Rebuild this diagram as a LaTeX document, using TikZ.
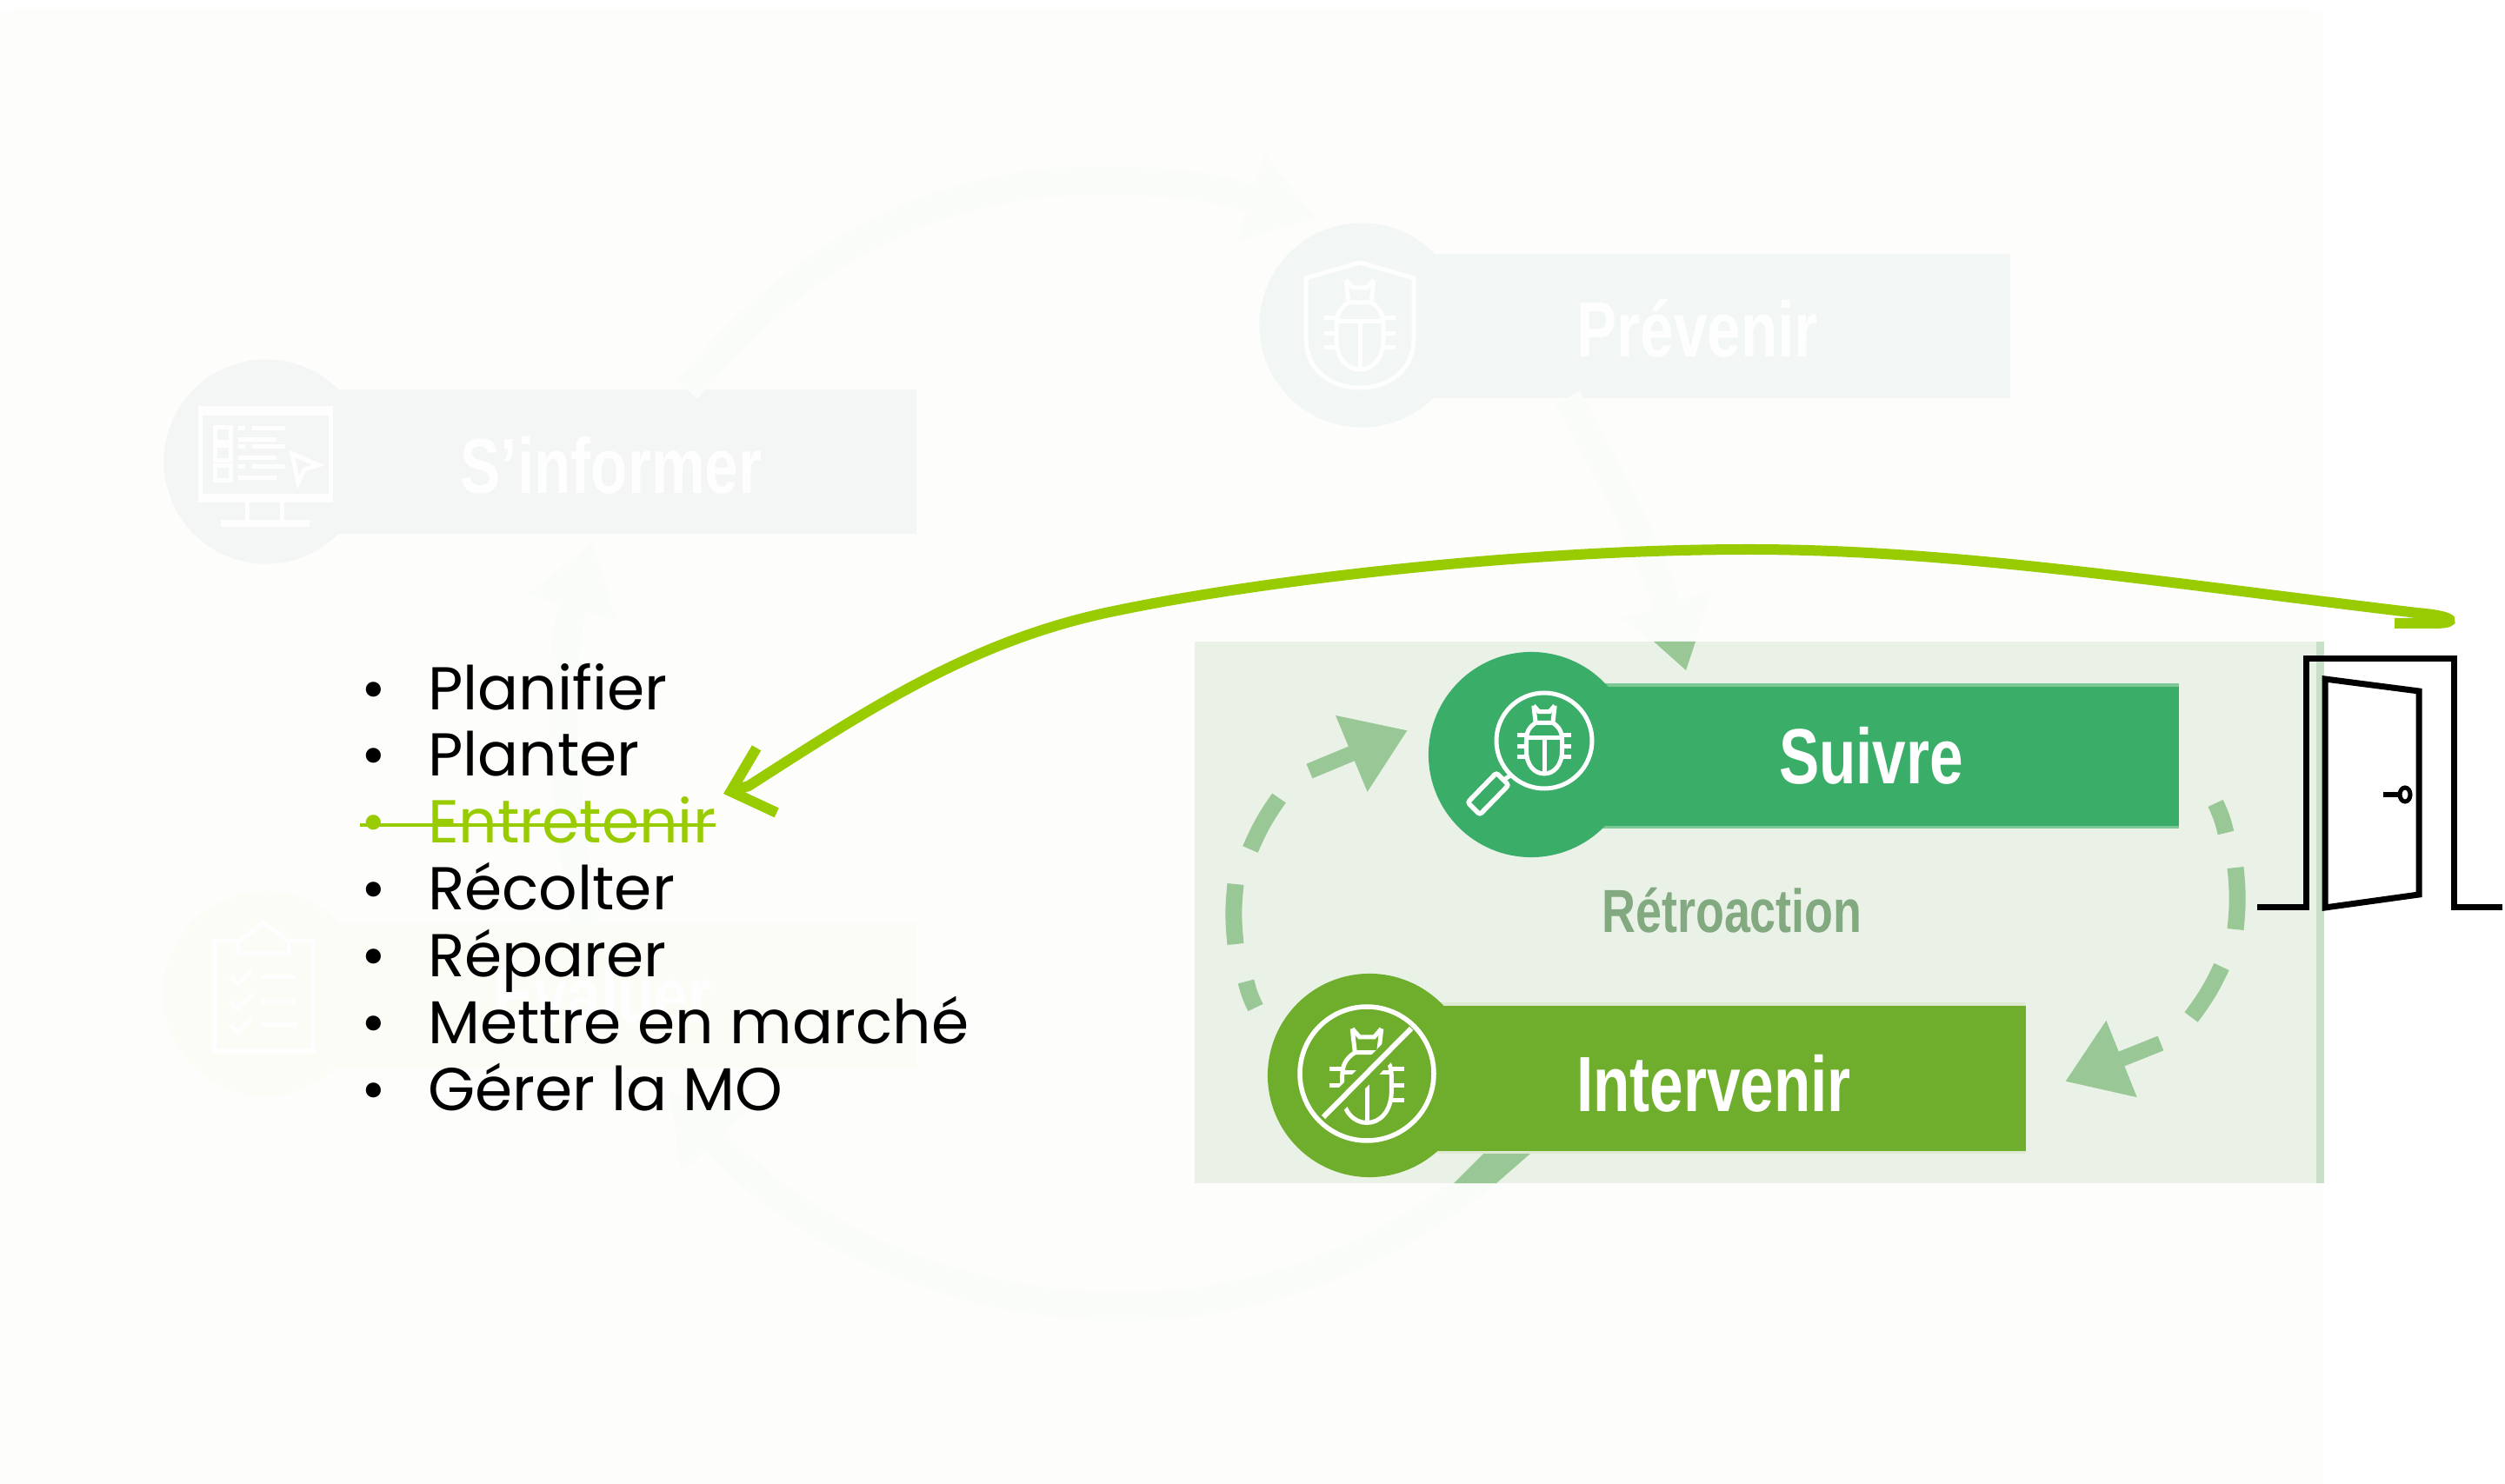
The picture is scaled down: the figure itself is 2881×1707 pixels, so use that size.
\documentclass[tikz,border=0pt]{standalone}
\usepackage{fontspec}
\usetikzlibrary{matrix}
\usetikzlibrary{arrows.meta}
\setmainfont{Poppins}
\newfontfamily\condfont[FakeStretch=0.77]{Liberation Sans}
\definecolor{pagetint}{HTML}{FDFDFB}
\definecolor{paneltint}{HTML}{EAF2E8}
\definecolor{paneledge}{HTML}{C8DFC8}
\definecolor{loopgreen}{HTML}{99C796}
\definecolor{fadedflow}{HTML}{FAFCFA}
\definecolor{suivregreen}{HTML}{3AAE68}
\definecolor{suivreedge}{HTML}{7CC796}
\definecolor{intervgreen}{HTML}{6FAE2C}
\definecolor{intervedge}{HTML}{DFE9D2}
\definecolor{informertint}{HTML}{F4F6F6}
\definecolor{preventint}{HTML}{F2F7F6}
\definecolor{evaltint}{HTML}{FBFCF6}
\definecolor{ghostwhite}{HTML}{FEFEFE}
\definecolor{markgreen}{HTML}{99CC00}
\newcommand{\beetle}[4]{%
	\begin{scope}[shift={(#1,#2)},scale=#3,draw=#4,line width=0.05cm]
		\draw (-16,-53) -- (-8,-44) -- (8,-44) -- (16,-53);
		\draw (-16,-53) -- (-13,-27) -- (13,-27) -- (16,-53);
		\draw (-13,-27) .. controls (-24,-20) and (-27,-12) .. (-27,0) -- (-27,15) .. controls (-27,38) and (-14,50) .. (0,50) .. controls (14,50) and (27,38) .. (27,15) -- (27,0) .. controls (27,-12) and (24,-20) .. (13,-27);
		\draw (-27,-5) -- (27,-5);
		\draw (0,-5) -- (0,48);
		\foreach \legy in {-9,9,25}
		{
			\draw (-41,\legy) -- (-27,\legy);
			\draw (27,\legy) -- (41,\legy);
		}
	\end{scope}}
\tikzset{
	stagecircle/.style={circle,minimum size=2.35cm,inner sep=0pt,outer sep=0pt},
	stagebar/.style={rectangle,minimum height=1.65cm,inner sep=0pt,outer sep=0pt,anchor=west},
	stagelabel/.style={anchor=base,inner sep=0pt,font=\condfont\bfseries\fontsize{25.6}{30}\selectfont},
	flowfaded/.style={draw=fadedflow,line width=0.32cm,-{Triangle[length=0.78cm,width=1cm]}},
	loopdash/.style={draw=loopgreen,line width=0.19cm},
	looparrow/.style={draw=loopgreen,line width=0.18cm,-{Triangle[length=0.7cm,width=0.9cm]}},
	markline/.style={draw=markgreen,line width=0.12cm},
	icon/.style={line width=0.05cm},
	doorline/.style={draw=black,line width=0.07cm,miter limit=10}
}
\begin{document}
\begin{tikzpicture}[x=0.01cm,y=-0.01cm]
	\useasboundingbox (0,0) rectangle (2881,1707);
	\fill[white] (0,0) rectangle (2881,1707);
	\fill[pagetint,rounded corners=0.15cm] (0,10) rectangle (2672,1720);
	
	% faded stages
	\coordinate (flowtop) at (1270,208);
	\coordinate (flowbottom) at (1290,1503);
	\node[stagecircle,fill=informertint] (informercircle) at (306,531) {};
	\node[stagebar,fill=informertint,minimum width=7.48cm] (informerbar) at (306,531) {};
	\node[stagecircle,fill=preventint] (prevenircircle) at (1566,374) {};
	\node[stagebar,fill=preventint,minimum width=7.46cm] (prevenirbar) at (1566,375) {};
	\node[stagecircle,fill=evaltint] (evalcircle) at (305,1143) {};
	\node[stagebar,fill=evaltint,minimum width=7.49cm] (evalbar) at (305,1145) {};
	
	\draw[flowfaded] ([xshift=1.1cm]informerbar.north) .. controls (930,280) and (1090,205) .. (flowtop) .. controls (1330,208) and (1390,212) .. (1513,251);
	\draw[flowfaded] ([xshift=-0.07cm]evalbar.north) .. controls (645,900) and (640,760) .. (681,624);
	\draw[flowfaded] ([xshift=-1.36cm]prevenirbar.south) .. controls (1860,560) and (1900,640) .. (1939,771);
	\draw[flowfaded] (1735,1327) .. controls (1620,1430) and (1470,1503) .. (flowbottom) .. controls (1100,1503) and (920,1420) .. (770,1255);
	
	\node[stagelabel,text=ghostwhite] (informerlabel) at (703,568) {S’informer};
	\node[stagelabel,text=ghostwhite] (prevenirlabel) at (1952,411) {Prévenir};
	\node[stagelabel,text=ghostwhite] (evallabel) at (693,1177) {Evaluer};
	
	% faded icons
	\begin{scope}[icon,draw=ghostwhite]
		\draw (230,470) rectangle (380,576);
		\draw[line width=0.08cm] (230,474) -- (380,474);
		\draw[line width=0.08cm] (230,572) -- (380,572);
		\draw (284,576) -- (284,600);
		\draw (324,576) -- (324,600);
		\draw[line width=0.08cm] (254,602) -- (356,602);
		\foreach \rowy in {492,513,536}
		{
			\draw (247,\rowy) rectangle (265,\rowy+17);
			\draw (274,\rowy+1) -- (282,\rowy+1);
			\draw (290,\rowy+1) -- (328,\rowy+1);
			\draw (274,\rowy+14) -- (318,\rowy+14);
		}
		\draw (336,522) -- (366,535) -- (350,540) -- (343,555) -- cycle;
		
		\draw (274,1083) -- (246,1083) -- (246,1209) -- (360,1209) -- (360,1083) -- (332,1083);
		\draw (274,1097) -- (274,1083) -- (303,1061) -- (332,1083) -- (332,1097) -- cycle;
		\foreach \rowy in {1124,1152,1179}
		{
			\draw (265,\rowy) -- (273,\rowy+8) -- (290,\rowy-8);
			\draw (300,\rowy) -- (341,\rowy);
		}
		
		\draw (1564,302) -- (1502,320) -- (1502,390) .. controls (1502,425) and (1530,446) .. (1564,446) .. controls (1598,446) and (1626,425) .. (1626,390) -- (1626,320) -- cycle;
	\end{scope}
	\beetle{1564}{375}{1}{ghostwhite}
	
	% feedback panel
	\fill[paneltint] (1374,738) rectangle (2664,1361);
	\fill[paneledge] (2664,738) rectangle (2673,1361);
	\fill[loopgreen] (1902,738) -- (1950,738) -- (1939,771) -- cycle;
	\fill[loopgreen] (1672,1361) -- (1706,1327) -- (1760,1327) -- (1721,1361) -- cycle;
	
	\node[stagebar,fill=suivregreen,minimum width=7.45cm,minimum height=1.63cm] (suivrebar) at (1761,869.5) {};
	\draw[suivreedge,line width=0.04cm] (suivrebar.north west) -- (suivrebar.north east);
	\draw[suivreedge,line width=0.03cm] (suivrebar.south west) -- (suivrebar.south east);
	\node[stagecircle,fill=suivregreen,minimum size=2.36cm] (suivrecircle) at (1761,868) {};
	\node[stagebar,fill=intervgreen,minimum width=7.55cm,minimum height=1.7cm] (intervbar) at (1575,1240) {};
	\draw[intervedge,line width=0.04cm] (intervbar.north west) -- (intervbar.north east);
	\draw[intervedge,line width=0.03cm] (intervbar.south west) -- (intervbar.south east);
	\node[stagecircle,fill=intervgreen,minimum size=2.34cm] (intervcircle) at (1575,1237) {};
	\node[stagelabel,text=white] (suivrelabel) at (2152,902) {Suivre};
	\node[stagelabel,text=white] (intervlabel) at (1971,1278) {Intervenir};
	\node[stagelabel,text=loopgreen!85!black,font=\condfont\bfseries\fontsize{19.9}{24}\selectfont] (retrolabel) at (1992,1073) {Rétroaction};
	
	% suivre icon
	\draw[white,line width=0.05cm] (1776,852) circle (55);
	\beetle{1776}{852}{0.76}{white}
	\draw[white,line width=0.05cm] (1737,892) -- (1728,898);
	\draw[white,line width=0.055cm,rounded corners=0.03cm] (1735,903) -- (1702,937) -- (1688,923) -- (1721,889) -- cycle;
	
	% intervenir icon
	\beetle{1572}{1239}{1.05}{white}
	\draw[intervgreen,line width=0.22cm] (1522,1285) -- (1623,1183);
	\draw[white,line width=0.06cm] (1522,1285) -- (1623,1183);
	\draw[white,line width=0.055cm] (1572,1235) circle (77);
	
	% dashes of the loop
	\foreach \fromx/\fromy/\tox/\toy in {1438/977/1471/918,1421/1086/1421/1017,1444/1159/1433/1129,2548/924/2560/958,2571/998/2571/1069,2555/1112/2520/1170}
	{
		\draw[loopdash] (\fromx,\fromy) to[bend left=6] (\tox,\toy);
	}
	\coordinate (looptail) at (1506,887);
	\coordinate (loophead) at (1619,840);
	\coordinate (looptailb) at (2485,1200);
	\coordinate (loopheadb) at (2375,1244);
	\draw[looparrow] (looptail) -- (loophead);
	\draw[looparrow] (looptailb) -- (loopheadb);
	
	% door
	\draw[doorline] (2596,1044) -- (2652,1044) -- (2652,758) -- (2822,758) -- (2822,1044) -- (2878,1044);
	\draw[doorline] (2674,781) -- (2782,795) -- (2782,1029) -- (2674,1044) -- cycle;
	\draw[draw=black,line width=0.06cm] (2741,914) -- (2760,914);
	\draw[draw=black,line width=0.05cm] (2766,914) ellipse (6 and 8);
	
	% list
	\matrix [matrix of nodes,anchor=north west,inner sep=0pt,outer sep=0pt,column sep=0.46cm,row sep=0pt,
	nodes={anchor=base west,inner sep=0pt,outer sep=0pt,text height=0.55cm,text depth=0.218cm,font=\fontsize{19.8}{22}\selectfont}](Mat) at (414,761)
	{
		|[minimum width=0.32cm]| • & Planifier \\
		|[minimum width=0.32cm]| • & Planter \\
		|[minimum width=0.32cm,text=markgreen]| • & |[text=markgreen]| Entretenir \\
		|[minimum width=0.32cm]| • & Récolter \\
		|[minimum width=0.32cm]| • & Réparer \\
		|[minimum width=0.32cm]| • & Mettre en marché \\
		|[minimum width=0.32cm]| • & Gérer la MO \\
	};
	\draw[draw=markgreen,line width=0.04cm] ([yshift=0.21cm]Mat-3-1.base west) -- ([yshift=0.21cm]Mat-3-2.base east);
	
	% long arrow from the door
	\coordinate (doorend) at (2754,717);
	\coordinate (arrowtop) at (2012,632);
	\coordinate (arrowbend) at (1286,702);
	\coordinate (arrownear) at (861,904);
	\coordinate (arrowtip) at (832,913);
	\draw[markline,line cap=butt,-{Straight Barb[length=0.43cm,width=0.78cm]}] (doorend) -- (2800,717) .. controls (2826,717) and (2826,709) .. (2780,705) .. controls (2500,672) and (2250,632) .. (arrowtop) .. controls (1750,632) and (1450,668) .. (arrowbend) .. controls (1120,735) and (1000,815) .. (arrownear) -- (arrowtip);
\end{tikzpicture}
\end{document}
